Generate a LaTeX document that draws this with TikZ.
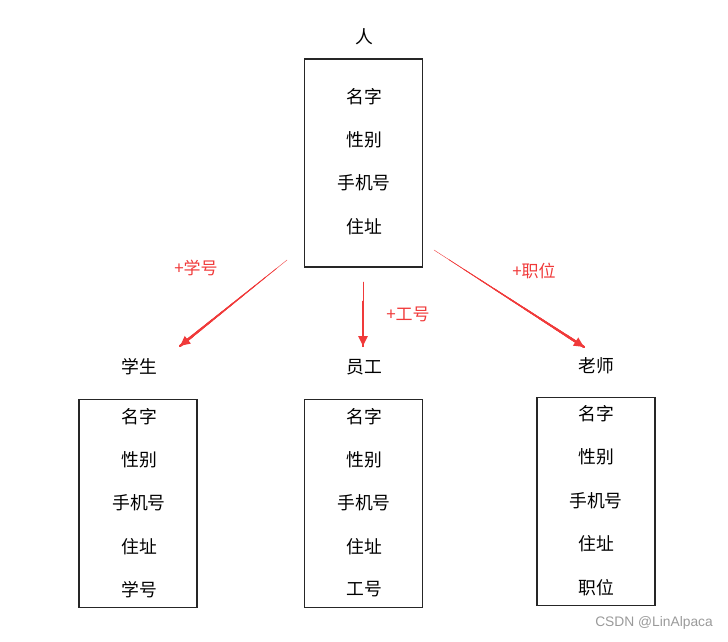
\documentclass[tikz,border=0pt]{standalone}
\usepackage{fontspec}
\setmainfont{Noto Sans CJK SC}
\newfontfamily\wmfont{Liberation Sans}
\usepackage{xcolor}
\usetikzlibrary{arrows.meta,positioning,calc}
\definecolor{ArrRed}{HTML}{F03A3A}
\definecolor{MarkGray}{HTML}{9A9A9A}

\begin{document}
\begin{tikzpicture}[x=1pt,y=-1pt, every node/.style={font=\fontsize{17.8}{20}\selectfont,inner sep=0pt},
 cls/.style={draw=black!85,line width=1.3pt,minimum width=118pt,minimum height=208pt},
 item/.style={},
 tag/.style={text=ArrRed,font=\fontsize{17}{19}\selectfont},
 seg/.style={ArrRed,line cap=round},
 head/.style={-{Triangle[length=10pt,width=9pt]},line width=2.4pt,ArrRed}]
\useasboundingbox (0,0) rectangle (728,641);
% base class
\node at (364,37) (pname) {人};
\node[cls] at (363.5,163) (pbox) {};
\foreach \t [count=\i] in {名字,性别,手机号,住址}
  \node[item] at (364,53+43.4*\i) (p\i) {\t};
% student
\node at (139,367) (sname) {学生};
\node[cls] at (138,503.5) (sbox) {};
\foreach \t [count=\i] in {名字,性别,手机号,住址,学号}
  \node[item] at (139,373+43.3*\i) (s\i) {\t};
% staff
\node at (364,367) (ename) {员工};
\node[cls] at (363.5,503.5) (ebox) {};
\foreach \t [count=\i] in {名字,性别,手机号,住址,工号}
  \node[item] at (364,373+43.3*\i) (e\i) {\t};
% teacher
\node at (596,366) (tname) {老师};
\node[cls] at (596,501.5) (tbox) {};
\foreach \t [count=\i] in {名字,性别,手机号,住址,职位}
  \node[item] at (596,370+43.5*\i) (t\i) {\t};
% arrows: tapered, thin at the tail
\coordinate (sa) at (287,260); \coordinate (sb) at (180,346);
\coordinate (ea) at (363,282); \coordinate (eb) at (363,346);
\coordinate (ta) at (434,250); \coordinate (tb) at (584,347);
\foreach \a/\b/\l in {sa/sb/137,ea/eb/64,ta/tb/179}{
  \foreach \f in {0,0.1,...,0.85}{
    \pgfmathsetmacro\lw{0.4+2.2*\f}
    \pgfmathsetmacro\sh{\f*\l}
    \draw[seg,line width=\lw pt,shorten <=\sh pt] (\a)--(\b);
  }
  \draw[head,shorten <=0.88*\l pt] (\a)--(\b);
}
\node[tag] at (196,268) (sadd) {+学号};
\node[tag] at (408,314) (eadd) {+工号};
\node[tag] at (534,271) (tadd) {+职位};
\node[text=MarkGray,font=\wmfont\fontsize{13.8}{15}\selectfont,anchor=east] at (713,623) (mark) {CSDN @LinAlpaca};
\end{tikzpicture}
\end{document}
